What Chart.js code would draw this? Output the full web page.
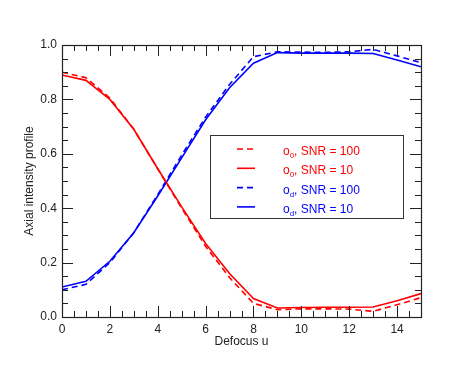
<!DOCTYPE html>
<html>
<head>
<meta charset="utf-8">
<script src="https://cdn.jsdelivr.net/npm/chart.js@4"></script>
<style>
  html, body { margin: 0; padding: 0; background: #fff; }
  #wrap { width: 457px; height: 366px; }
</style>
</head>
<body>
<div id="wrap"><canvas id="chart" width="457" height="366"></canvas></div>
<script>
// defocus values and profiles
const defocus = [0, 1, 2, 3, 4, 5, 6, 7, 8, 9, 10, 11, 12, 13, 14, 15];
const o0Snr100 = [0.90, 0.88, 0.805, 0.69, 0.545, 0.40, 0.26, 0.145, 0.05, 0.027, 0.03, 0.03, 0.029, 0.021, 0.045, 0.071];
const o0Snr10  = [0.89, 0.87, 0.80, 0.69, 0.545, 0.405, 0.27, 0.16, 0.068, 0.033, 0.035, 0.036, 0.036, 0.037, 0.06, 0.086];
const odSnr100 = [0.10, 0.12, 0.20, 0.31, 0.45, 0.595, 0.735, 0.855, 0.957, 0.975, 0.974, 0.973, 0.975, 0.984, 0.96, 0.935];
const odSnr10  = [0.11, 0.131, 0.205, 0.31, 0.445, 0.585, 0.725, 0.843, 0.933, 0.972, 0.97, 0.97, 0.97, 0.969, 0.945, 0.92];
const xTicks = [0, 2, 4, 6, 8, 10, 12, 14];
const yTicks = [0.0, 0.2, 0.4, 0.6, 0.8, 1.0];

const RED = '#ff0000';
const BLUE = '#0000ff';
const FONT = '"Liberation Sans", Arial, sans-serif';

const toPts = arr => arr.map((v, i) => ({ x: defocus[i], y: v }));

// legend entries: main text, subscript, rest
const legendItems = [
  { sub: '0', rest: ', SNR = 100', color: RED, dash: [6, 4] },
  { sub: '0', rest: ', SNR = 10', color: RED, dash: [] },
  { sub: 'd', rest: ', SNR = 100', color: BLUE, dash: [6, 4] },
  { sub: 'd', rest: ', SNR = 10', color: BLUE, dash: [] }
];

// box frame with inward ticks on all four sides
const framePlugin = {
  id: 'frame',
  afterDatasetsDraw(chart) {
    const { ctx, chartArea: a, scales: { x, y } } = chart;
    ctx.save();
    ctx.strokeStyle = '#222';
    ctx.lineWidth = 1;
    ctx.beginPath();
    for (let v = 0; v <= 15.001; v += 0.5) {
      const px = Math.round(x.getPixelForValue(v)) + 0.5;
      const len = Math.abs(v % 2) < 1e-6 ? 11 : 6;
      ctx.moveTo(px, a.bottom); ctx.lineTo(px, a.bottom - len);
      ctx.moveTo(px, a.top); ctx.lineTo(px, a.top + len);
    }
    for (let i = 0; i <= 20; i++) {
      const v = i * 0.05;
      const py = Math.round(y.getPixelForValue(v)) + 0.5;
      const len = i % 4 === 0 ? 11 : 6;
      ctx.moveTo(a.left, py); ctx.lineTo(a.left + len, py);
      ctx.moveTo(a.right, py); ctx.lineTo(a.right - len, py);
    }
    ctx.stroke();
    ctx.lineWidth = 1.2;
    ctx.strokeRect(a.left + 0.5, a.top + 0.5, a.right - a.left, a.bottom - a.top);
    ctx.restore();
  }
};

// legend box with subscripted labels
const legendPlugin = {
  id: 'subLegend',
  afterDraw(chart) {
    const ctx = chart.ctx;
    ctx.save();
    ctx.fillStyle = '#fff';
    ctx.fillRect(210, 135, 193, 83);
    ctx.strokeStyle = '#333';
    ctx.lineWidth = 1;
    ctx.strokeRect(210.5, 135.5, 193, 83);
    legendItems.forEach((it, i) => {
      const yy = 149 + i * 19.3;
      ctx.strokeStyle = it.color;
      ctx.lineWidth = 1.6;
      ctx.setLineDash(it.dash);
      ctx.beginPath();
      ctx.moveTo(237, yy); ctx.lineTo(255, yy);
      ctx.stroke();
      ctx.setLineDash([]);
      ctx.fillStyle = it.color;
      ctx.textBaseline = 'alphabetic';
      ctx.font = '12px ' + FONT;
      let tx = 283;
      const base = yy + 6;
      ctx.fillText('o', tx, base);
      tx += ctx.measureText('o').width;
      ctx.font = '8px ' + FONT;
      ctx.fillText(it.sub, tx, base + 3);
      tx += ctx.measureText(it.sub).width;
      ctx.font = '12px ' + FONT;
      ctx.fillText(it.rest, tx, base);
    });
    ctx.restore();
  }
};

new Chart(document.getElementById('chart').getContext('2d'), {
  type: 'line',
  data: {
    datasets: [
      { label: 'o0, SNR = 100', data: toPts(o0Snr100), borderColor: RED, borderDash: [6, 4] },
      { label: 'o0, SNR = 10', data: toPts(o0Snr10), borderColor: RED },
      { label: 'od, SNR = 100', data: toPts(odSnr100), borderColor: BLUE, borderDash: [6, 4] },
      { label: 'od, SNR = 10', data: toPts(odSnr10), borderColor: BLUE }
    ]
  },
  options: {
    responsive: false,
    animation: false,
    devicePixelRatio: 1,
    layout: { padding: { left: 18, right: 36, top: 45, bottom: 13 } },
    elements: {
      line: { borderWidth: 1.6, tension: 0, fill: false },
      point: { radius: 0 }
    },
    plugins: {
      legend: { display: false },
      tooltip: { enabled: false }
    },
    scales: {
      x: {
        type: 'linear',
        min: 0,
        max: 15,
        afterFit: s => { s.height = 36; },
        afterBuildTicks: s => { s.ticks = xTicks.map(v => ({ value: v })); },
        grid: { display: false, drawTicks: false },
        border: { display: false },
        ticks: { color: '#222', padding: 5, font: { family: FONT, size: 12 }, maxRotation: 0 },
        title: { display: true, text: 'Defocus u', color: '#222', padding: { top: 2 }, font: { family: FONT, size: 12 } }
      },
      y: {
        min: 0,
        max: 1,
        afterFit: s => { s.width = 44; },
        afterBuildTicks: s => { s.ticks = yTicks.map(v => ({ value: v })); },
        grid: { display: false, drawTicks: false },
        border: { display: false },
        ticks: { color: '#222', padding: 5, font: { family: FONT, size: 12 }, callback: v => v.toFixed(1) },
        title: { display: true, text: 'Axial intensity profile', color: '#222', padding: { bottom: 2 }, font: { family: FONT, size: 12 } }
      }
    }
  },
  plugins: [framePlugin, legendPlugin]
});
</script>
</body>
</html>
